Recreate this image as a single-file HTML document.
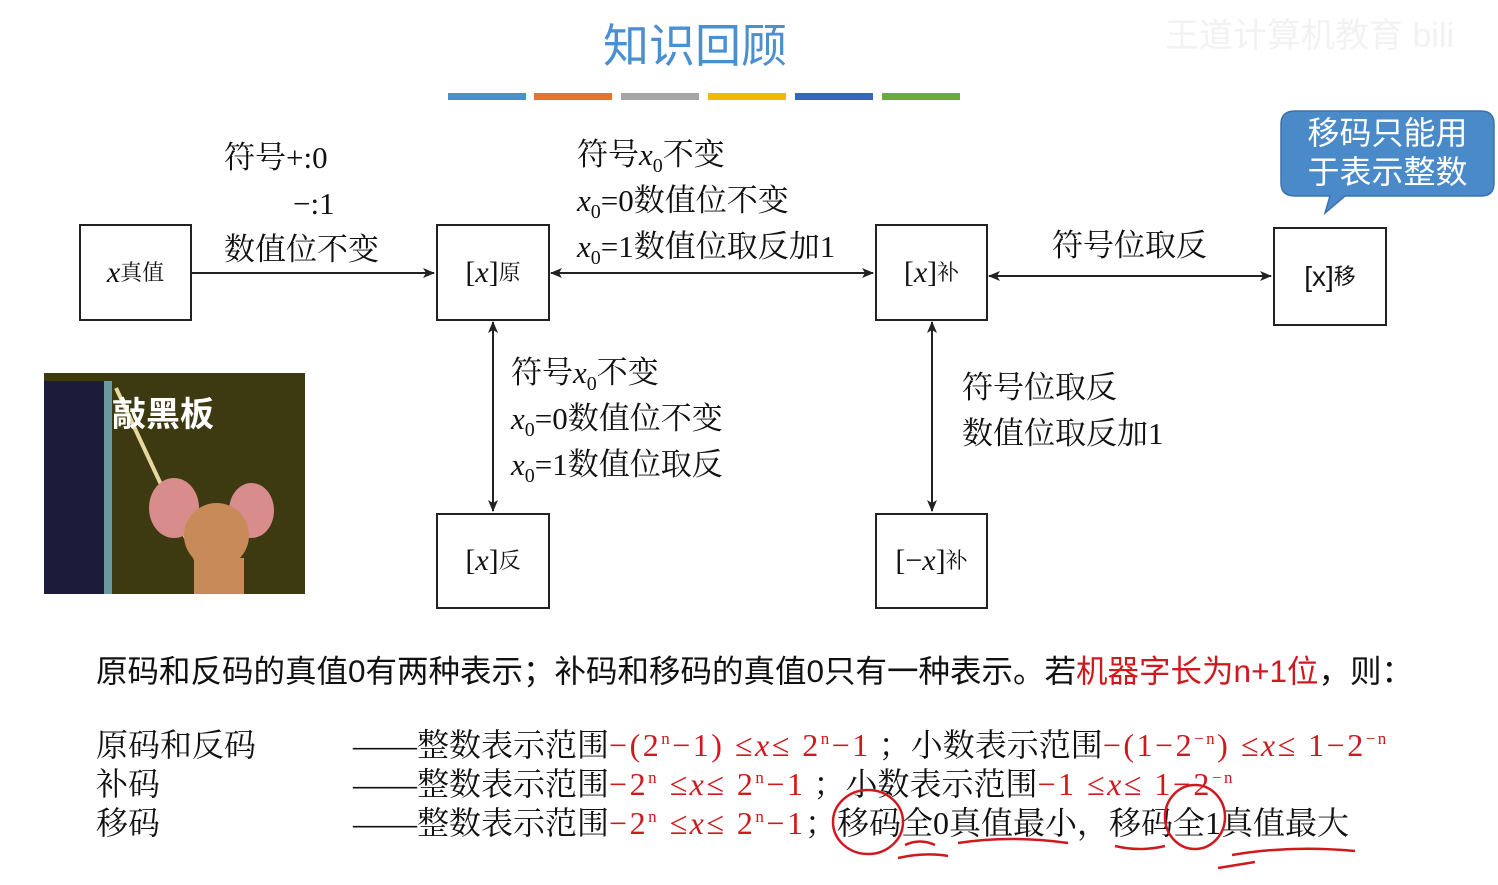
<!DOCTYPE html>
<html><head><meta charset="utf-8"><style>
body{margin:0;width:1498px;height:885px;background:#fff;position:relative;overflow:hidden;font-family:"Liberation Serif","Noto Serif CJK SC",serif;color:#111}
.a{position:absolute;white-space:nowrap}
.box{position:absolute;border:2px solid #222;box-sizing:border-box;display:flex;align-items:center;justify-content:center;font-size:30px;background:#fff}
.t{font-size:31px;line-height:36px}
sub{font-size:20px;vertical-align:-7px;line-height:0}
sup{font-size:17px;vertical-align:12px;line-height:0}
.r{color:#d0191e}
.b .r{letter-spacing:2.5px}
.sans{font-family:"Liberation Sans","Noto Sans CJK SC",sans-serif}
.bar{position:absolute;top:93px;height:7px;width:78px}
.b{position:absolute;white-space:nowrap;font-size:32px;line-height:38px}
</style></head><body>
<div class="a sans" style="left:1165px;top:8px;font-size:34px;color:#f2f2f2">王道计算机教育 bili</div>
<div class="a sans" style="left:603px;top:10px;font-size:46px;color:#4a8fd0">知识回顾</div>
<div class="bar" style="left:448px;background:#4a8fd0"></div>
<div class="bar" style="left:534px;background:#e8732a"></div>
<div class="bar" style="left:621px;background:#a5a5a5"></div>
<div class="bar" style="left:708px;background:#f5b800"></div>
<div class="bar" style="left:795px;background:#3565c0"></div>
<div class="bar" style="left:882px;background:#6aab3a"></div>

<svg class="a" style="left:0;top:0" width="1498" height="885">
<defs><marker id="m" markerWidth="12" markerHeight="10" refX="11" refY="5" orient="auto-start-reverse" markerUnits="userSpaceOnUse"><path d="M0,0 L12,5 L0,10 L3,5z" fill="#222"/></marker></defs>
<g stroke="#222" stroke-width="2">
<line x1="191" y1="273" x2="434" y2="273" marker-end="url(#m)"/>
<line x1="551" y1="273" x2="873" y2="273" marker-start="url(#m)" marker-end="url(#m)"/>
<line x1="989" y1="276" x2="1271" y2="276" marker-start="url(#m)" marker-end="url(#m)"/>
<line x1="493" y1="322" x2="493" y2="511" marker-start="url(#m)" marker-end="url(#m)"/>
<line x1="932" y1="322" x2="932" y2="511" marker-start="url(#m)" marker-end="url(#m)"/>
</g>
<path d="M1295,111 H1481 Q1494,111 1494,124 V183 Q1494,196 1481,196 H1345 L1325,213 L1330,196 H1295 Q1281,196 1281,183 V124 Q1281,111 1295,111z" fill="#4a8ac9" stroke="#3a72ad" stroke-width="1.5"/>
</svg>
<div class="a sans" style="left:1281px;top:114px;width:213px;text-align:center;color:#fff;font-size:32px;line-height:39px">移码只能用<br>于表示整数</div>

<div class="box" style="left:79px;top:224px;width:113px;height:97px"><i>x</i><sub style="font-size:22px">真值</sub></div>
<div class="box" style="left:436px;top:224px;width:114px;height:97px">[<i>x</i>]<sub style="font-size:22px">原</sub></div>
<div class="box" style="left:875px;top:224px;width:113px;height:97px">[<i>x</i>]<sub style="font-size:22px">补</sub></div>
<div class="box sans" style="left:1273px;top:227px;width:114px;height:99px;font-size:28px">[x]<sub style="font-size:22px">移</sub></div>
<div class="box" style="left:436px;top:513px;width:114px;height:96px">[<i>x</i>]<sub style="font-size:22px">反</sub></div>
<div class="box" style="left:875px;top:513px;width:113px;height:96px">[−<i>x</i>]<sub style="font-size:22px">补</sub></div>

<div class="a t" style="left:224px;top:140px">符号+:0</div>
<div class="a t" style="left:293px;top:186px">−:1</div>
<div class="a t" style="left:224px;top:232px">数值位不变</div>
<div class="a t" style="left:577px;top:137px">符号<i>x</i><sub>0</sub>不变</div>
<div class="a t" style="left:577px;top:183px"><i>x</i><sub>0</sub>=0数值位不变</div>
<div class="a t" style="left:577px;top:229px"><i>x</i><sub>0</sub>=1数值位取反加1</div>
<div class="a t" style="left:1052px;top:228px">符号位取反</div>
<div class="a t" style="left:511px;top:355px">符号<i>x</i><sub>0</sub>不变</div>
<div class="a t" style="left:511px;top:401px"><i>x</i><sub>0</sub>=0数值位不变</div>
<div class="a t" style="left:511px;top:447px"><i>x</i><sub>0</sub>=1数值位取反</div>
<div class="a t" style="left:962px;top:370px">符号位取反</div>
<div class="a t" style="left:962px;top:416px">数值位取反加1</div>

<div class="a" style="left:44px;top:373px;width:261px;height:221px;background:#3d3a12;overflow:hidden">
<div class="a" style="left:0;top:8px;width:60px;height:213px;background:#1c1c3a;border-right:8px solid #6a9aa0"></div>
<div class="a" style="left:70px;top:15px;width:4px;height:200px;background:#e8d8a0;transform:rotate(-25deg);transform-origin:top"></div>
<div class="a" style="left:105px;top:105px;width:50px;height:60px;border-radius:50%;background:#d98c8c"></div>
<div class="a" style="left:185px;top:110px;width:45px;height:55px;border-radius:50%;background:#d98c8c"></div>
<div class="a" style="left:140px;top:130px;width:65px;height:65px;border-radius:50%;background:#c98a5a"></div>
<div class="a" style="left:150px;top:185px;width:50px;height:40px;background:#c98a5a"></div>
<div class="a sans" style="left:68px;top:14px;font-size:34px;color:#fff;font-weight:bold">敲黑板</div>
</div>

<div class="a sans" style="left:96px;top:646px;font-size:31.5px">原码和反码的真值0有两种表示；补码和移码的真值0只有一种表示。若<span class="r">机器字长为n+1位</span>，则：</div>

<div class="b" style="left:96px;top:726px">原码和反码</div>
<div class="b" style="left:96px;top:765px">补码</div>
<div class="b" style="left:96px;top:804px">移码</div>

<div class="b" style="left:353px;top:726px">——整数表示范围<span class="r">−(2<sup>n</sup>−1) ≤<i>x</i>≤ 2<sup>n</sup>−1</span> ；小数表示范围<span class="r">−(1−2<sup>−n</sup>) ≤<i>x</i>≤ 1−2<sup>−n</sup></span></div>
<div class="b" style="left:353px;top:765px">——整数表示范围<span class="r">−2<sup>n</sup> ≤<i>x</i>≤ 2<sup>n</sup>−1</span> ；小数表示范围<span class="r">−1 ≤<i>x</i>≤ 1−2<sup>−n</sup></span></div>
<div class="b" style="left:353px;top:804px">——整数表示范围<span class="r">−2<sup>n</sup> ≤<i>x</i>≤ 2<sup>n</sup>−1</span></div>
<div class="b" style="left:805px;top:804px">；移码全0真值最小，移码全1真值最大</div>

<svg class="a" style="left:0;top:0" width="1498" height="885">
<g fill="none" stroke="#d0191e" stroke-width="2.5">
<ellipse cx="868" cy="822" rx="35" ry="32"/>
<ellipse cx="1195" cy="817" rx="30" ry="32"/>
<path d="M905,845 Q920,838 935,845 M898,858 Q925,852 948,856 M958,843 Q1010,835 1068,843 M1115,846 Q1140,852 1165,846 M1232,855 Q1290,845 1355,851 M1218,868 Q1230,866 1255,862"/>
</g>
</svg>
</body></html>
